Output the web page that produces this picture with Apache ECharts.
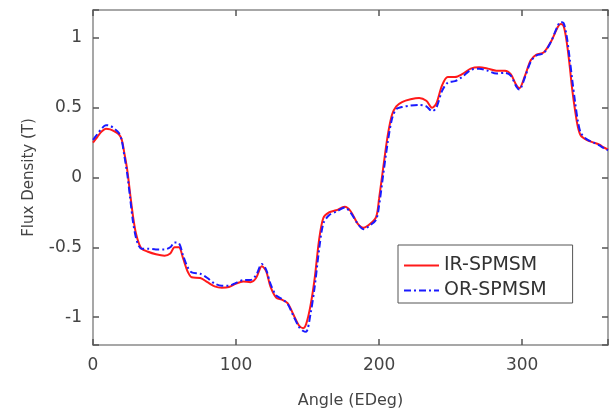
<!DOCTYPE html>
<html>
<head>
<meta charset="utf-8">
<script src="https://cdn.jsdelivr.net/npm/echarts@6/dist/echarts.min.js"></script>
<style>
html,body{margin:0;padding:0;background:#fff;}
#chart{width:616px;height:414px;}
</style>
</head>
<body>
<div id="chart"></div>
<script>
const angles = [0,3,6,9,12,15,18,20,22,24,26,28,30,32,34,38,44,50,54,57,60,63,66,69,75,80,85,90,95,100,105,110,114,118,121,124,128,132,136,140,144,147,149,152,155,158,161,165,170,176,180,185,189,194,198,200,203,206,209,212,216,222,228,233,237,240,244,248,253,258,264,270,276,282,288,292,296,298,302,306,310,315,320,325,327,329,331,333,335,337,339,341,345,350,354,357,360];
const irSpmsm = [0.25,0.29,0.33,0.35,0.345,0.33,0.31,0.275,0.17,0.05,-0.12,-0.28,-0.40,-0.47,-0.51,-0.53,-0.55,-0.56,-0.545,-0.50,-0.50,-0.58,-0.67,-0.715,-0.72,-0.75,-0.78,-0.79,-0.785,-0.76,-0.745,-0.75,-0.72,-0.635,-0.67,-0.78,-0.86,-0.875,-0.90,-0.98,-1.06,-1.08,-1.05,-0.92,-0.72,-0.45,-0.29,-0.25,-0.235,-0.21,-0.24,-0.33,-0.36,-0.33,-0.28,-0.15,0.08,0.30,0.45,0.51,0.54,0.56,0.57,0.55,0.50,0.53,0.66,0.72,0.72,0.74,0.78,0.79,0.78,0.765,0.765,0.74,0.66,0.64,0.73,0.84,0.88,0.895,0.97,1.08,1.10,1.085,0.98,0.82,0.63,0.48,0.36,0.30,0.27,0.25,0.235,0.215,0.20];
const orSpmsm = [0.27,0.31,0.35,0.375,0.37,0.35,0.32,0.27,0.15,0.02,-0.15,-0.32,-0.43,-0.49,-0.51,-0.51,-0.515,-0.515,-0.50,-0.465,-0.47,-0.56,-0.64,-0.68,-0.69,-0.72,-0.76,-0.775,-0.775,-0.755,-0.735,-0.735,-0.70,-0.62,-0.66,-0.76,-0.845,-0.87,-0.905,-0.99,-1.07,-1.10,-1.105,-0.98,-0.78,-0.52,-0.33,-0.27,-0.245,-0.215,-0.25,-0.33,-0.37,-0.34,-0.30,-0.20,0.03,0.25,0.42,0.49,0.505,0.515,0.52,0.51,0.475,0.50,0.62,0.68,0.69,0.72,0.77,0.78,0.765,0.745,0.75,0.73,0.65,0.63,0.72,0.83,0.875,0.89,0.97,1.09,1.115,1.105,1.02,0.87,0.70,0.54,0.40,0.32,0.275,0.25,0.23,0.21,0.195];
const xTicks = [0,100,200,300];
const yTicks = [-1,-0.5,0,0.5,1];
const seriesNames = ['IR-SPMSM','OR-SPMSM'];

const pair = (xs, ys) => xs.map((x,i)=>[x, ys[i]]);
const FONT = 'DejaVu Sans';
const axisLineStyle = {color:'#8a8a8a', width:1.5};
const tickStyle = {show:true, inside:true, length:6, lineStyle:{color:'#555', width:1.5}};

const chart = echarts.init(document.getElementById('chart'), null, {renderer:'canvas'});
chart.setOption({
  animation:false,
  backgroundColor:'#fff',
  grid:{left:93, right:8, top:10, bottom:62, containLabel:false},
  legend:{
    orient:'vertical', left:398, top:245,
    data:seriesNames,
    itemWidth:35, itemHeight:14, itemGap:6,
    padding:[11,26,3,5],
    itemStyle:{opacity:0},
    borderColor:'#555', borderWidth:1, backgroundColor:'#fff',
    textStyle:{fontFamily:FONT, fontSize:19, color:'#333'}
  },
  xAxis:[{
    type:'value', min:0, max:360, interval:100,
    name:'Angle (EDeg)', nameLocation:'middle', nameGap:48,
    nameTextStyle:{fontFamily:FONT, fontSize:16, color:'#444'},
    axisLine:{show:true, onZero:false, lineStyle:axisLineStyle},
    axisTick:tickStyle,
    splitLine:{show:false},
    axisLabel:{fontFamily:FONT, fontSize:17, color:'#444', margin:12,
      formatter:v => xTicks.includes(v) ? String(v) : ''}
  },{
    type:'value', position:'top', min:0, max:360, interval:100,
    axisLine:{show:true, onZero:false, lineStyle:axisLineStyle},
    axisTick:tickStyle, axisLabel:{show:false}, splitLine:{show:false}
  }],
  yAxis:[{
    type:'value', min:-1.2, max:1.2, splitNumber:5,
    name:'Flux Density (T)', nameLocation:'middle', nameGap:56,
    nameTextStyle:{fontFamily:FONT, fontSize:15, color:'#444'},
    axisLine:{show:true, onZero:false, lineStyle:axisLineStyle},
    axisTick:tickStyle,
    splitLine:{show:false},
    axisLabel:{fontFamily:FONT, fontSize:17, color:'#444', margin:11,
      formatter:v => yTicks.some(t=>Math.abs(t-v)<1e-9) ? String(v) : ''}
  },{
    type:'value', position:'right', min:-1.2, max:1.2, splitNumber:5,
    axisLine:{show:true, onZero:false, lineStyle:axisLineStyle},
    axisTick:tickStyle, axisLabel:{show:false}, splitLine:{show:false}
  }],
  series:[{
    name:seriesNames[0], type:'line', xAxisIndex:0, yAxisIndex:0,
    data:pair(angles, irSpmsm), smooth:0.3, showSymbol:false, symbol:'none',
    lineStyle:{color:'#ff1a1a', width:2}, itemStyle:{color:'#ff1a1a'}
  },{
    name:seriesNames[1], type:'line', xAxisIndex:0, yAxisIndex:0,
    data:pair(angles, orSpmsm), smooth:0.3, showSymbol:false, symbol:'none',
    lineStyle:{color:'#1a1aff', width:2, type:[7,3,2,3]}, itemStyle:{color:'#1a1aff'}
  }]
});
</script>
</body>
</html>
